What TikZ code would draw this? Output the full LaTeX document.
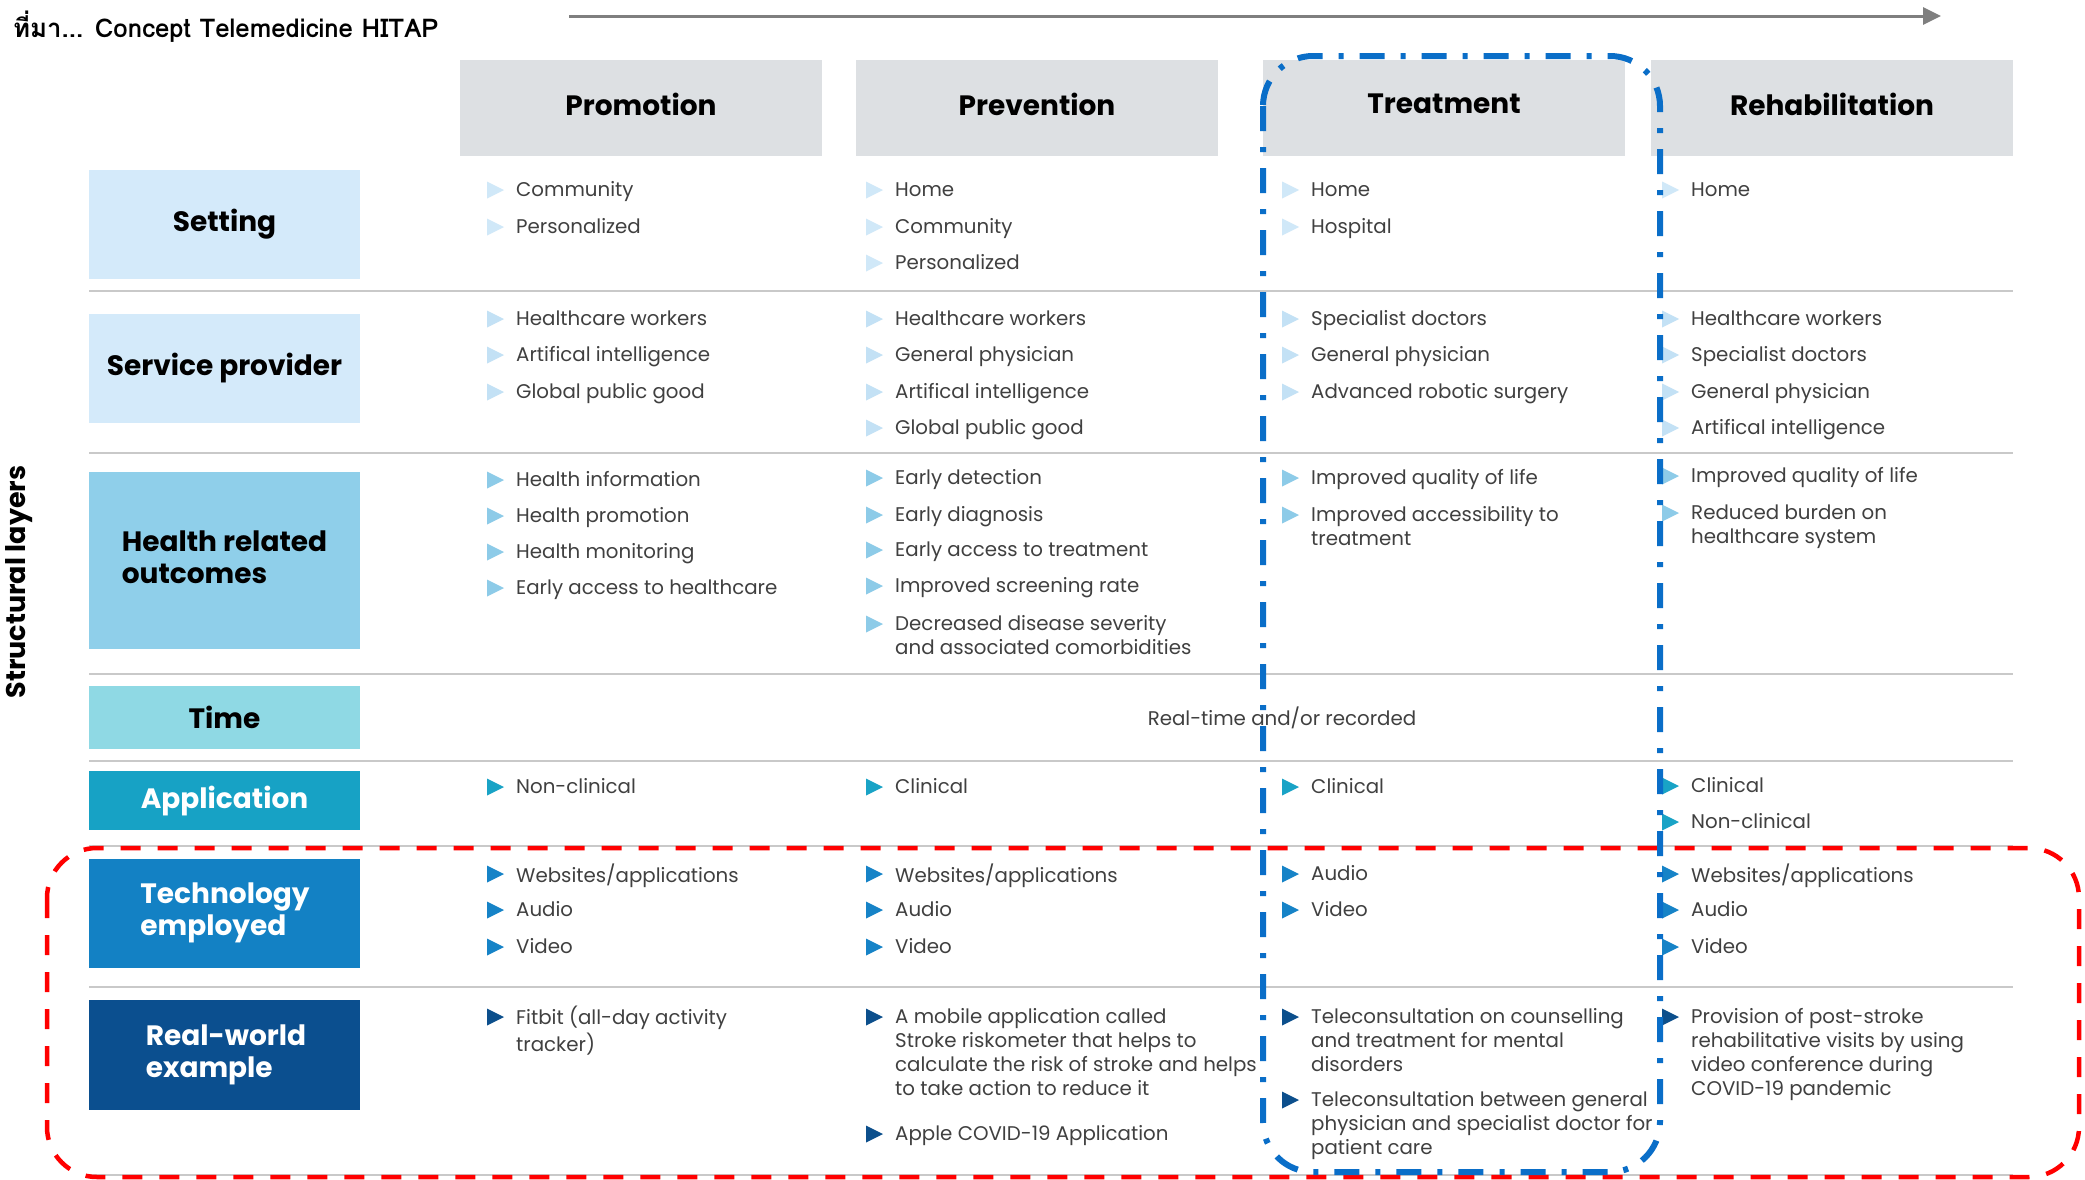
\documentclass[tikz,border=0pt]{standalone}
\usepackage{fontspec}
\setmainfont{Poppins}
\newfontfamily\thaifont[Script=Thai]{Loma}
\usetikzlibrary{arrows.meta}
\definecolor{hdrgray}{HTML}{DDE0E3}
\definecolor{linegray}{HTML}{C9C9C9}
\definecolor{arrowgray}{HTML}{7F7F7F}
\definecolor{itemgray}{HTML}{404040}
\definecolor{fSet}{HTML}{D4EAFA}
\definecolor{fHealth}{HTML}{8FCFEA}
\definecolor{fTime}{HTML}{8FD9E4}
\definecolor{fApp}{HTML}{17A2C5}
\definecolor{fTech}{HTML}{1381C4}
\definecolor{fReal}{HTML}{0B4F8F}
\definecolor{bSet}{HTML}{D0E8F8}
\definecolor{bServ}{HTML}{C3E1F5}
\definecolor{bHealth}{HTML}{8DCBE8}
\definecolor{bApp}{HTML}{19A3C6}
\definecolor{bTech}{HTML}{1683C7}
\definecolor{bReal}{HTML}{0C4F8C}
\definecolor{blueline}{HTML}{0A6EC8}
\definecolor{redline}{HTML}{FF0000}
\newcommand{\bitem}[5]{%
  \fill[#4] ({#2-29},{#3-8.5}) -- ({#2-12},{#3}) -- ({#2-29},{#3+8.5}) -- cycle;
  \node[itm, anchor=north west] (#1) at ({#2},{#3-10.8}) {\strut #5};
}
\def\xA{516}
\def\xB{895}
\def\xC{1311}
\def\xD{1691}
\begin{document}
\begin{tikzpicture}[x=1pt,y=-1pt,
  hdr/.style={fill=hdrgray, minimum width=362pt, minimum height=96pt, inner sep=0pt},
  hdrtxt/.style={inner sep=0pt, font=\fontsize{28}{32}\selectfont\bfseries},
  lbl/.style={minimum width=271pt, inner sep=0pt, align=left,
    font=\fontsize{28}{32}\selectfont\bfseries},
  itm/.style={inner sep=0pt, align=left, text=itemgray, font=\fontsize{19.8}{24}\selectfont},
  sep/.style={draw=linegray, line width=2.5pt},
  bluebox/.style={draw=blueline, line width=6pt, rounded corners=50pt,
    dash pattern=on 25pt off 16pt on 5pt off 16pt},
  redbox/.style={draw=redline, line width=4.5pt, rounded corners=50pt,
    dash pattern=on 20pt off 17pt}
]
\useasboundingbox (0,0) rectangle (2085,1179);
\fill[white] (0,0) rectangle (2085,1179);

% title and arrow
\node[anchor=west, inner sep=0pt, font=\thaifont\bfseries\fontsize{25.8}{30}\selectfont] (title) at (13,27) {ที่มา... Concept Telemedicine HITAP};
\coordinate (arrS) at (569,16);
\coordinate (arrE) at (1941,16);
\draw[arrowgray, line width=3pt, -{Triangle[length=18pt,width=17pt]}] (arrS) -- (arrE);

% structural layers
\node[rotate=90, inner sep=0pt, font=\fontsize{27}{30}\selectfont\bfseries] (struct) at (19,582) {Structural layers};

% separator lines
\foreach \yy in {291,453,674,761,846,987,1175}
  \draw[sep] (89,\yy) -- (2013,\yy);

% header boxes
\node[hdr] (promo) at (641,108) {};
\node[hdr] (prev) at (1037,108) {};
\node[hdr] (treat) at (1444,108) {};
\node[hdr] (rehab) at (1832,108) {};
\node[hdrtxt] (promot) at (641,104) {Promotion};
\node[hdrtxt] (prevt) at (1037,104) {Prevention};
\node[hdrtxt] (treatt) at (1444,104) {Treatment};
\node[hdrtxt] (rehabt) at (1832,104) {Rehabilitation};

% left label boxes
\node[lbl, fill=fSet, minimum height=109pt] (setting) at (224.5,224.5) {Setting};
\node[lbl, fill=fSet, minimum height=109pt] (service) at (224.5,368.5) {Service provider};
\node[lbl, fill=fHealth, minimum height=177pt] (health) at (224.5,560.5) {};
\node[align=left, inner sep=0pt, font=\fontsize{28}{32}\selectfont\bfseries] (healthtxt) at (224.5,557) {Health related\\outcomes};
\node[lbl, fill=fTime, minimum height=63pt] (time) at (224.5,717.5) {Time};
\node[lbl, fill=fApp, minimum height=59pt, text=white] (app) at (224.5,800.5) {Application};
\node[lbl, fill=fTech, minimum height=109pt] (tech) at (224.5,913.5) {};
\node[align=left, inner sep=0pt, text=white, font=\fontsize{28}{32}\selectfont\bfseries] (techtxt) at (225,913) {Technology\\employed};
\node[lbl, fill=fReal, minimum height=110pt] (real) at (224.5,1055) {};
\node[align=left, inner sep=0pt, text=white, font=\fontsize{28}{32}\selectfont\bfseries] (realtxt) at (226,1055) {Real-world\\example};

% ---- Promotion column
\bitem{a1}{\xA}{190}{bSet}{Community}
\bitem{a2}{\xA}{227}{bSet}{Personalized}
\bitem{a3}{\xA}{319}{bServ}{Healthcare workers}
\bitem{a4}{\xA}{355}{bServ}{Artifical intelligence}
\bitem{a5}{\xA}{392}{bServ}{Global public good}
\bitem{a6}{\xA}{480}{bHealth}{Health information}
\bitem{a7}{\xA}{516}{bHealth}{Health promotion}
\bitem{a8}{\xA}{552}{bHealth}{Health monitoring}
\bitem{a9}{\xA}{588}{bHealth}{Early access to healthcare}
\bitem{a10}{\xA}{787}{bApp}{Non-clinical}
\bitem{a11}{\xA}{874}{bTech}{Websites/applications}
\bitem{a12}{\xA}{910}{bTech}{Audio}
\bitem{a13}{\xA}{947}{bTech}{Video}
\bitem{a14}{\xA}{1017}{bReal}{Fitbit (all-day activity\\tracker)}

% ---- Prevention column
\bitem{b1}{\xB}{190}{bSet}{Home}
\bitem{b2}{\xB}{227}{bSet}{Community}
\bitem{b3}{\xB}{263}{bSet}{Personalized}
\bitem{b4}{\xB}{319}{bServ}{Healthcare workers}
\bitem{b5}{\xB}{355}{bServ}{General physician}
\bitem{b6}{\xB}{392}{bServ}{Artifical intelligence}
\bitem{b7}{\xB}{428}{bServ}{Global public good}
\bitem{b8}{\xB}{478}{bHealth}{Early detection}
\bitem{b9}{\xB}{515}{bHealth}{Early diagnosis}
\bitem{b10}{\xB}{550}{bHealth}{Early access to treatment}
\bitem{b11}{\xB}{586}{bHealth}{Improved screening rate}
\bitem{b12}{\xB}{624}{bHealth}{Decreased disease severity\\and associated comorbidities}
\bitem{b13}{\xB}{787}{bApp}{Clinical}
\bitem{b14}{\xB}{874}{bTech}{Websites/applications}
\bitem{b15}{\xB}{910}{bTech}{Audio}
\bitem{b16}{\xB}{947}{bTech}{Video}
\bitem{b17}{\xB}{1017}{bReal}{A mobile application called\\Stroke riskometer that helps to\\calculate the risk of stroke and helps\\to take action to reduce it}
\bitem{b18}{\xB}{1134}{bReal}{Apple COVID-19 Application}

% ---- Treatment column
\bitem{c1}{\xC}{190}{bSet}{Home}
\bitem{c2}{\xC}{227}{bSet}{Hospital}
\bitem{c3}{\xC}{319}{bServ}{Specialist doctors}
\bitem{c4}{\xC}{355}{bServ}{General physician}
\bitem{c5}{\xC}{392}{bServ}{Advanced robotic surgery}
\bitem{c6}{\xC}{478}{bHealth}{Improved quality of life}
\bitem{c7}{\xC}{515}{bHealth}{Improved accessibility to\\treatment}
\bitem{c8}{\xC}{787}{bApp}{Clinical}
\bitem{c9}{\xC}{874}{bTech}{Audio}
\bitem{c10}{\xC}{910}{bTech}{Video}
\bitem{c11}{\xC}{1017}{bReal}{Teleconsultation on counselling\\and treatment for mental\\disorders}
\bitem{c12}{\xC}{1100}{bReal}{Teleconsultation between general\\physician and specialist doctor for\\patient care}

% ---- Rehabilitation column
\bitem{d1}{\xD}{190}{bSet}{Home}
\bitem{d2}{\xD}{319}{bServ}{Healthcare workers}
\bitem{d3}{\xD}{355}{bServ}{Specialist doctors}
\bitem{d4}{\xD}{392}{bServ}{General physician}
\bitem{d5}{\xD}{428}{bServ}{Artifical intelligence}
\bitem{d6}{\xD}{476}{bHealth}{Improved quality of life}
\bitem{d7}{\xD}{513}{bHealth}{Reduced burden on\\healthcare system}
\bitem{d8}{\xD}{786}{bApp}{Clinical}
\bitem{d9}{\xD}{822}{bApp}{Non-clinical}
\bitem{d10}{\xD}{874}{bTech}{Websites/applications}
\bitem{d11}{\xD}{910}{bTech}{Audio}
\bitem{d12}{\xD}{947}{bTech}{Video}
\bitem{d13}{\xD}{1017}{bReal}{Provision of post-stroke\\rehabilitative visits by using\\video conference during\\COVID-19 pandemic}

% time
\node[inner sep=0pt, text=itemgray, font=\fontsize{19.8}{24}\selectfont] (timetxt) at (1282,718) {Real-time and/or recorded};

% highlight boxes
\draw[redbox] (47,848) rectangle (2079,1177);
\draw[bluebox] (1263,56) rectangle (1660,1172);
\end{tikzpicture}
\end{document}
